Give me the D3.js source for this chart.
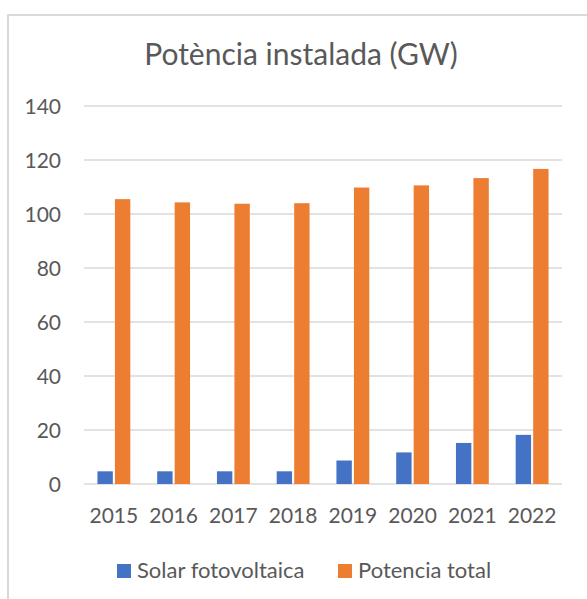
<!DOCTYPE html>
<html>
<head>
<meta charset="utf-8">
<script src="https://cdn.jsdelivr.net/npm/d3@7"></script>
<style>
  body { margin: 0; background: #fff; }
  text { font-family: Lato, "Open Sans", sans-serif; fill: #595959; }
</style>
</head>
<body>
<div id="chart"></div>
<script>
var years = ["2015", "2016", "2017", "2018", "2019", "2020", "2021", "2022"];
var solar = [4.7, 4.7, 4.7, 4.7, 8.7, 11.7, 15.2, 18.2];
var total = [105.5, 104.3, 103.8, 104.0, 109.8, 110.6, 113.3, 116.7];
var seriesNames = ["Solar fotovoltaica", "Potencia total"];
var yTicks = [0, 20, 40, 60, 80, 100, 120, 140];

var colors = ["#4472C4", "#ED7D31"];
var W = 587, H = 599;
var margin = {top: 106, bottom: 115, left: 84, right: 25};

var svg = d3.select("#chart").append("svg")
    .attr("width", W)
    .attr("height", H);

// chart border (only left + top visible)
svg.append("rect")
    .attr("x", 8).attr("y", 15)
    .attr("width", W + 10).attr("height", H + 10)
    .attr("fill", "none")
    .attr("stroke", "#d9d9d9")
    .attr("stroke-width", 2);

var x = d3.scaleBand()
    .domain(years)
    .range([margin.left, W - margin.right])
    .paddingInner(0.45)
    .paddingOuter(0.225);

var xSub = d3.scaleBand()
    .domain([0, 1])
    .range([0, x.bandwidth()])
    .paddingInner(0.12);

var y = d3.scaleLinear()
    .domain([0, 140])
    .range([H - margin.bottom, margin.top]);

// gridlines
svg.append("g")
    .selectAll("line")
    .data(yTicks)
    .enter()
    .append("line")
    .attr("x1", margin.left)
    .attr("x2", W - margin.right)
    .attr("y1", d => y(d))
    .attr("y2", d => y(d))
    .attr("stroke", "#d9d9d9")
    .attr("stroke-width", 1.5);

// y labels
svg.append("g")
    .selectAll("text")
    .data(yTicks)
    .enter()
    .append("text")
    .attr("x", 61)
    .attr("y", d => y(d))
    .attr("dy", "0.36em")
    .attr("text-anchor", "end")
    .style("font-size", "21px")
    .text(d => d);

// bars
var data = years.map((yr, i) => ({year: yr, vals: [solar[i], total[i]]}));

var groups = svg.append("g")
    .selectAll("g")
    .data(data)
    .enter()
    .append("g")
    .attr("transform", d => "translate(" + x(d.year) + ",0)");

groups.selectAll("rect")
    .data(d => d.vals)
    .enter()
    .append("rect")
    .attr("x", (d, i) => xSub(i))
    .attr("width", xSub.bandwidth())
    .attr("y", d => y(d))
    .attr("height", d => y(0) - y(d))
    .attr("fill", (d, i) => colors[i]);

// x labels
svg.append("g")
    .selectAll("text")
    .data(years)
    .enter()
    .append("text")
    .attr("x", d => x(d) + x.bandwidth() / 2)
    .attr("y", 523)
    .attr("text-anchor", "middle")
    .style("font-size", "21px")
    .text(d => d);

// title
svg.append("text")
    .attr("x", 301)
    .attr("y", 65)
    .attr("text-anchor", "middle")
    .style("font-size", "30px")
    .text("Potència instalada (GW)");

// legend
var legendX = [117, 338];
var legend = svg.append("g")
    .selectAll("g")
    .data(seriesNames)
    .enter()
    .append("g")
    .attr("transform", (d, i) => "translate(" + legendX[i] + ",0)");

legend.append("rect")
    .attr("x", 0).attr("y", 564)
    .attr("width", 14).attr("height", 14)
    .attr("fill", (d, i) => colors[i]);

legend.append("text")
    .attr("x", 20)
    .attr("y", 578)
    .style("font-size", "22px")
    .text(d => d);
</script>
</body>
</html>
